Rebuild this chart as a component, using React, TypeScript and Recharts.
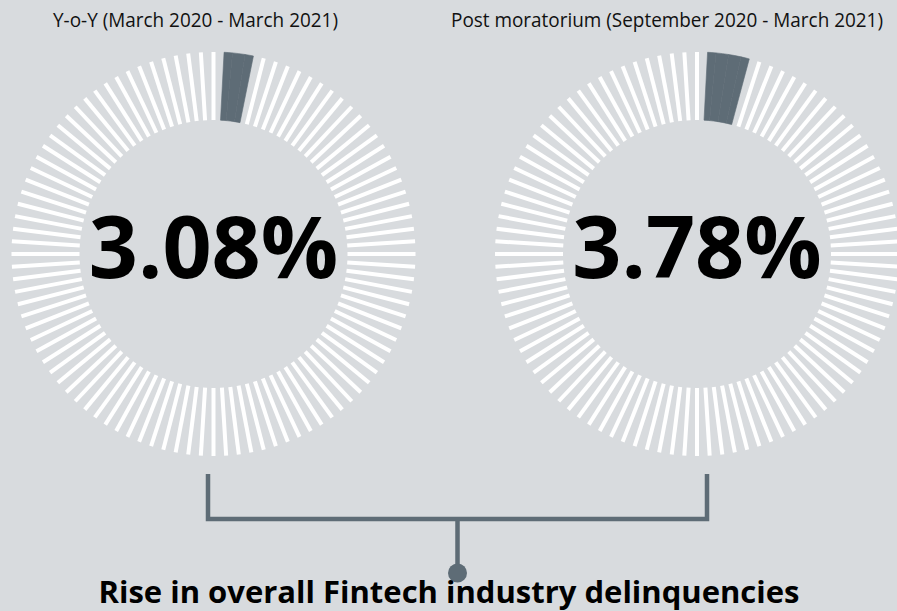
import { PieChart, Pie, Sector } from 'recharts';

const panelLabels = ['Y-o-Y (March 2020 - March 2021)', 'Post moratorium (September 2020 - March 2021)'];
const panelValues = [3.08, 3.78];
const panelCenters = [213.5, 697];
const title = 'Rise in overall Fintech industry delinquencies';

const TICKS = 100;
const BG = '#d8dbde';
const SLATE = '#5e6c76';
const RAD = Math.PI / 180;

const CY = 254;
const INNER = 134;
const OUTER = 202;

// one tick per percentage point, the ones covered by the value are filled
const ringData = (v: number) =>
  Array.from({ length: TICKS }, (_, i) => ({
    unit: 1,
    idx: i,
    filled: i >= 1 && i <= Math.round(v),
    last: i === Math.round(v),
  }));

function TickShape(props: any) {
  const { cx, cy, innerRadius, outerRadius, midAngle, startAngle, endAngle } = props;
  const p = props.payload ?? props;
  if (p.filled) {
    const half = 0.6;
    const s = p.idx === 1 ? midAngle + half : startAngle;
    const e = p.last ? midAngle - half : endAngle;
    return (
      <Sector
        cx={cx}
        cy={cy}
        innerRadius={innerRadius}
        outerRadius={outerRadius}
        startAngle={s}
        endAngle={e}
        fill={SLATE}
        stroke={SLATE}
        strokeWidth={0.6}
      />
    );
  }
  const cos = Math.cos(-midAngle * RAD);
  const sin = Math.sin(-midAngle * RAD);
  return (
    <line
      x1={cx + innerRadius * cos}
      y1={cy + innerRadius * sin}
      x2={cx + outerRadius * cos}
      y2={cy + outerRadius * sin}
      stroke="#ffffff"
      strokeWidth={4}
    />
  );
}

export default function App() {
  const half = 180 / TICKS;
  return (
    <div style={{ position: 'absolute', left: 0, top: 0, width: 897, height: 611, background: BG, overflow: 'hidden' }}>
      <PieChart width={897} height={611} margin={{ top: 0, right: 0, bottom: 0, left: 0 }}>
        {panelValues.map((v, k) => (
          <Pie
            key={k}
            data={ringData(v)}
            dataKey="unit"
            cx={panelCenters[k]}
            cy={CY}
            innerRadius={INNER}
            outerRadius={OUTER}
            startAngle={90 + half}
            endAngle={-270 + half}
            paddingAngle={0}
            stroke="none"
            shape={TickShape}
            inactiveShape={TickShape}
            activeShape={TickShape}
            isAnimationActive={false}
          />
        ))}
      </PieChart>
      <svg
        width={897}
        height={611}
        style={{ position: 'absolute', left: 0, top: 0, pointerEvents: 'none' }}
      >
        <text
          x={195.5}
          y={27}
          textAnchor="middle"
          fontFamily="Open Sans"
          fontSize={20}
          textLength={285}
          lengthAdjust="spacingAndGlyphs"
          fill="#111"
        >
          {panelLabels[0]}
        </text>
        <text
          x={667}
          y={27}
          textAnchor="middle"
          fontFamily="Open Sans"
          fontSize={20}
          textLength={432}
          lengthAdjust="spacingAndGlyphs"
          fill="#111"
        >
          {panelLabels[1]}
        </text>
        {panelValues.map((v, k) => (
          <text
            key={k}
            x={panelCenters[k]}
            y={278}
            textAnchor="middle"
            fontFamily="Open Sans"
            fontWeight={700}
            fontSize={86}
            fill="#000"
          >
            {v.toFixed(2)}%
          </text>
        ))}
        <path
          d="M208 474 V519 H707 V474 M457.5 519 V572"
          fill="none"
          stroke={SLATE}
          strokeWidth={4.5}
        />
        <circle cx={457.5} cy={573} r={9.5} fill={SLATE} />
        <text x={449} y={603} textAnchor="middle" fontFamily="Open Sans" fontWeight={700} fontSize={31} fill="#000">
          {title}
        </text>
      </svg>
    </div>
  );
}
